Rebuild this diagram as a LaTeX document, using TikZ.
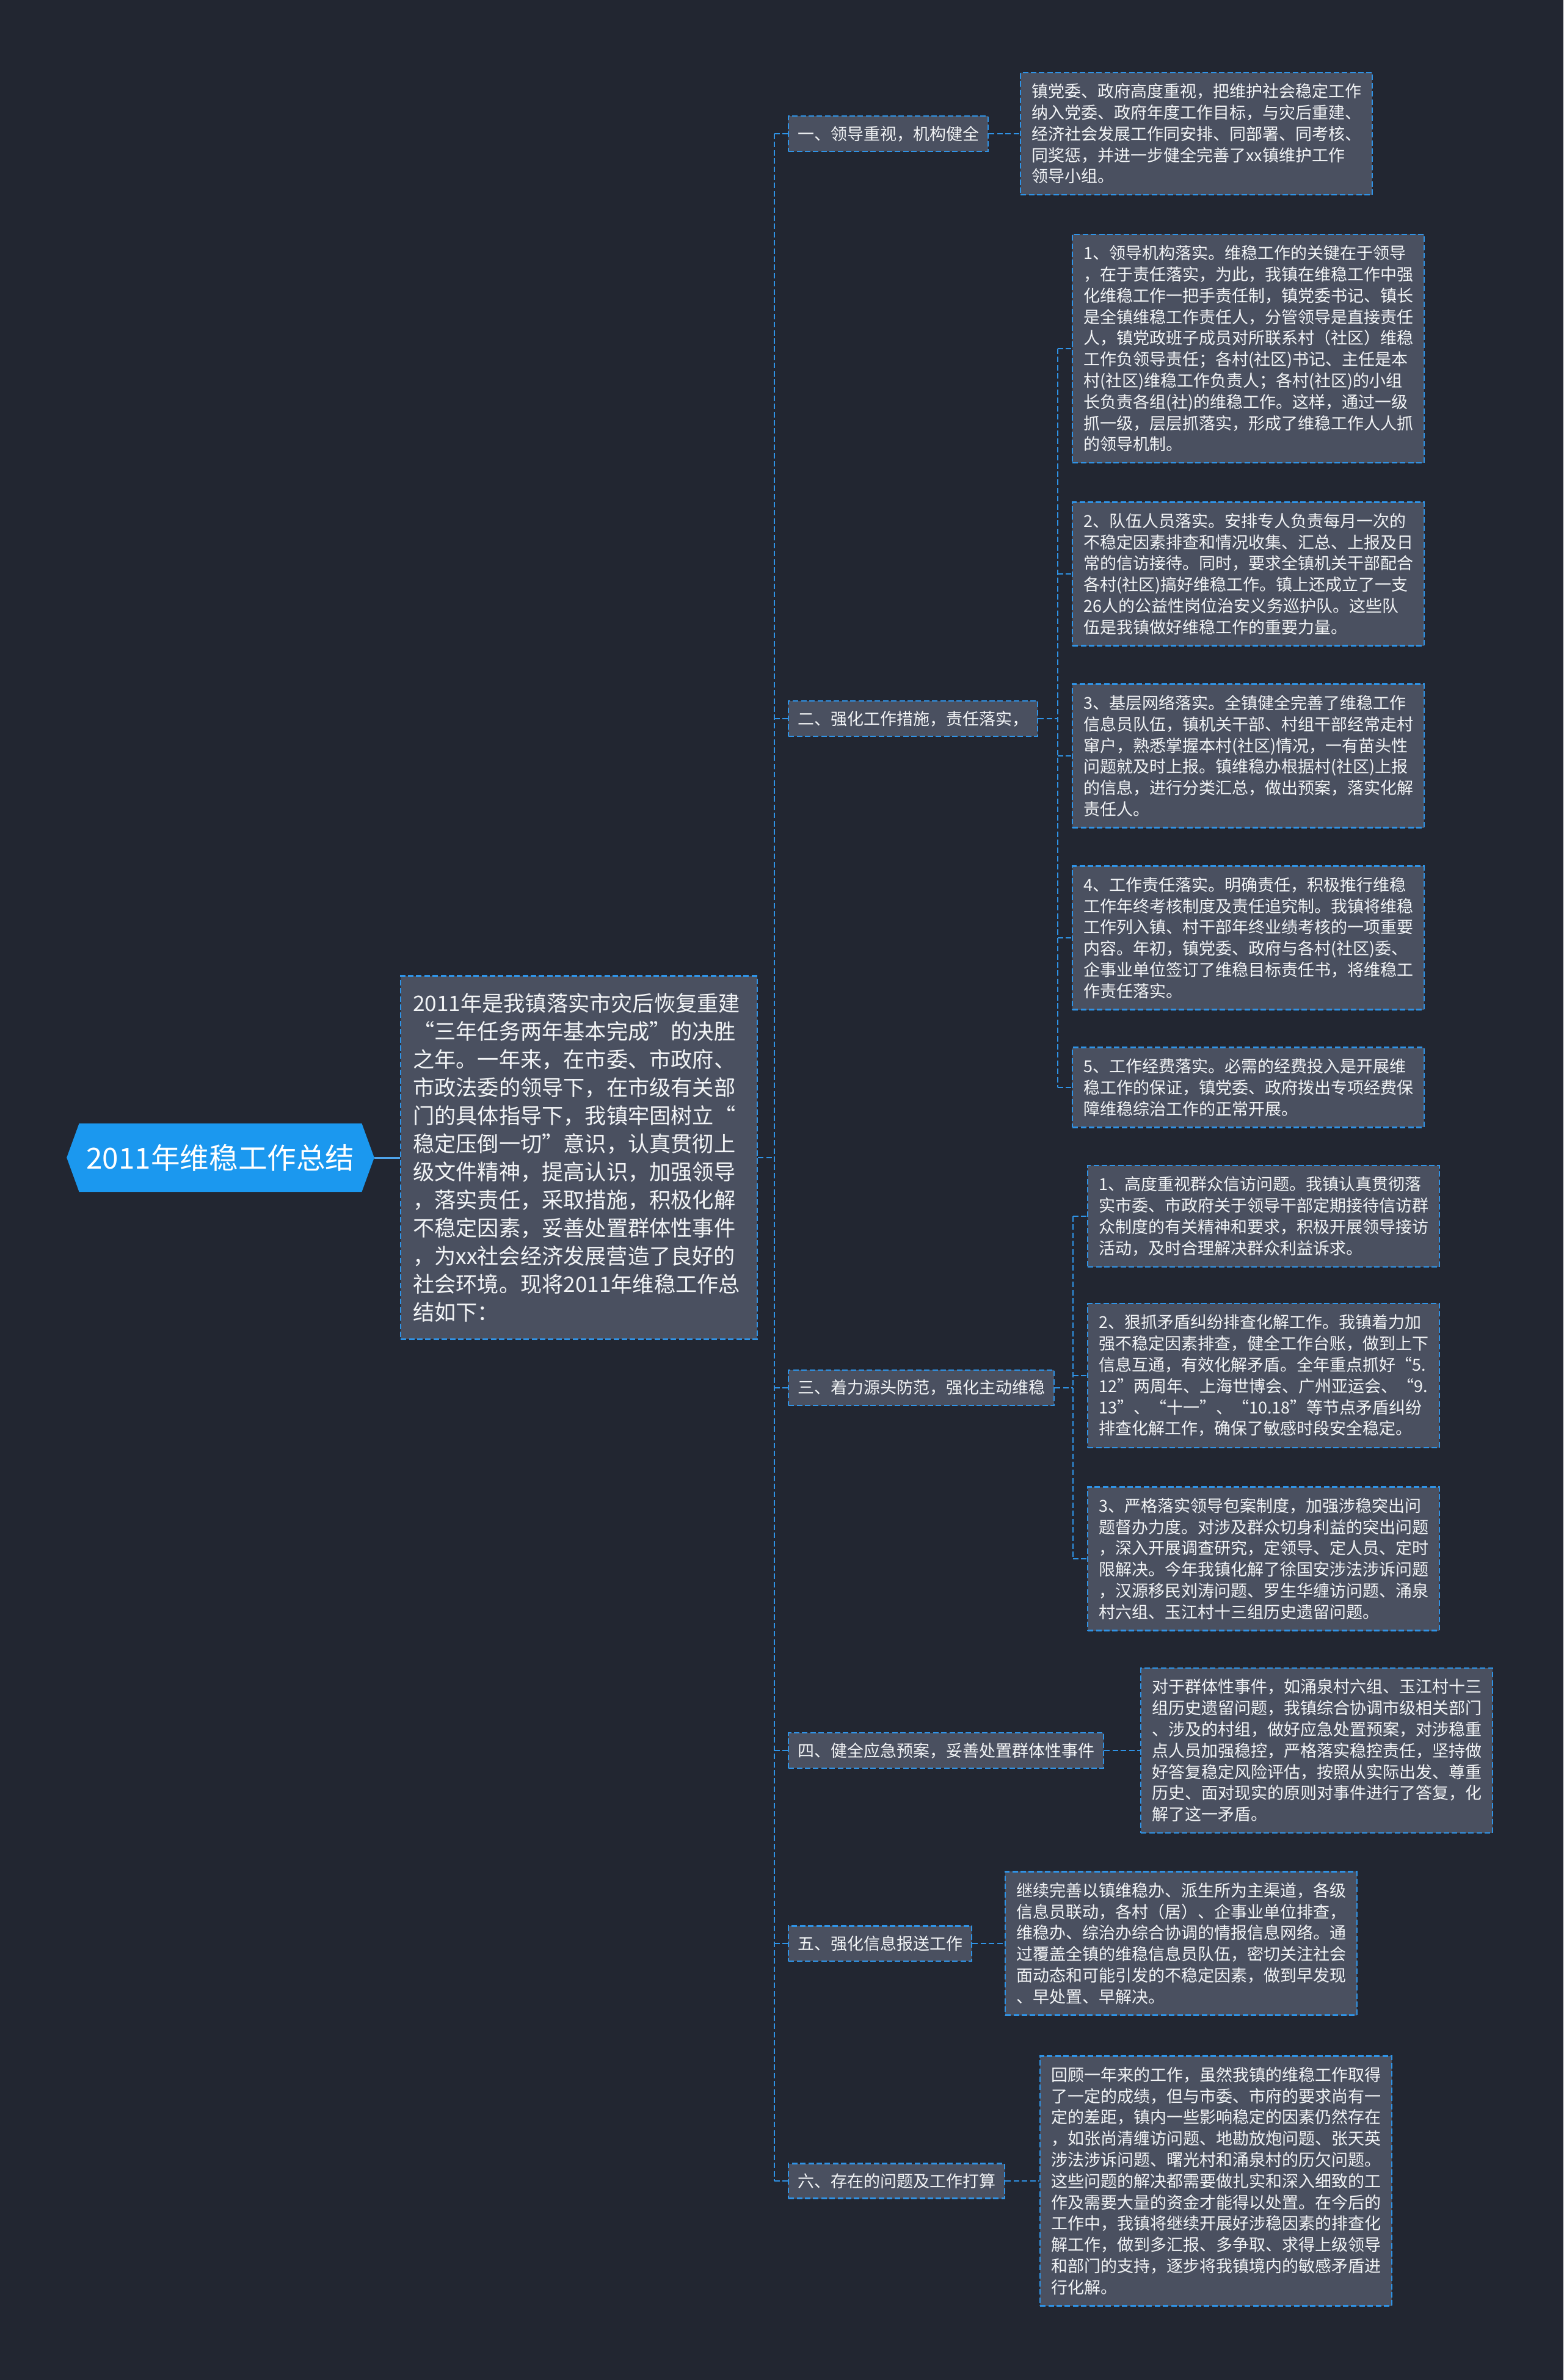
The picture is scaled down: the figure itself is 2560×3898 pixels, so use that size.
\documentclass[tikz,border=0pt]{standalone}
\usepackage{fontspec}
\setmainfont{Noto Sans CJK SC}
\usetikzlibrary{shapes.symbols}
\definecolor{smBack}{HTML}{222631}
\definecolor{smRoot}{HTML}{1B98EF}
\definecolor{smBox}{HTML}{4A5060}
\definecolor{smLine}{HTML}{2F93E6}
\definecolor{smInk}{HTML}{F2F4F6}
\tikzset{
  sm diagram/.style={x=0.5pt, y=-0.5pt, text=smInk},
  sm root/.style={signal, signal to=west and east, signal pointer angle=140,
    fill=smRoot, text=white, font=\fontsize{23.8}{28}\selectfont,
    minimum height=56pt, inner xsep=6pt},
  sm box/.style={draw=smLine, fill=smBox, line width=1.2pt,
    dash pattern=on 4.5pt off 2.2pt, align=left, anchor=west},
  sm intro/.style={sm box, text width=272pt, inner xsep=10pt, inner ysep=14pt,
    font=\fontsize{17.6}{23}\selectfont},
  sm title/.style={sm box, inner xsep=7.5pt, inner ysep=8pt,
    font=\fontsize{13.5}{17}\selectfont},
  sm leaf/.style={sm box, text width=270pt, inner xsep=9pt, inner ysep=9pt,
    font=\fontsize{13.5}{17.4}\selectfont},
  sm link/.style={draw=smLine, line width=1pt, dash pattern=on 4.5pt off 2.2pt},
  sm trunk/.style={draw=smLine!85!white, line width=1.5pt}
}
\begin{document}
\begin{tikzpicture}[sm diagram]
\fill[smBack] (0,0) rectangle (2560,3898);
\useasboundingbox (0,0) rectangle (2560,3898);
% root and introduction
\node[sm root] (root) at (361,1896) {2011年维稳工作总结};
\node[sm intro] (intro) at (655,1896) {2011年是我镇落实市灾后恢复重建\\
“三年任务两年基本完成”的决胜\\
之年。一年来，在市委、市政府、\\
市政法委的领导下，在市级有关部\\
门的具体指导下，我镇牢固树立“\\
稳定压倒一切”意识，认真贯彻上\\
级文件精神，提高认识，加强领导\\
，落实责任，采取措施，积极化解\\
不稳定因素，妥善处置群体性事件\\
，为xx社会经济发展营造了良好的\\
社会环境。现将2011年维稳工作总\\
结如下：};
\draw[sm trunk] (root.east) -- (intro.west);
% section titles
\foreach \name/\y/\title in {b1/219/{一、领导重视，机构健全},
  b2/1177/{二、强化工作措施，责任落实，},
  b3/2273/{三、着力源头防范，强化主动维稳},
  b4/2867/{四、健全应急预案，妥善处置群体性事件},
  b5/3183/{五、强化信息报送工作},
  b6/3572/{六、存在的问题及工作打算}}{
  \node[sm title] (\name) at (1290,\y) {\title};
}
\coordinate (spine) at (1268,1896);
\draw[sm link] (intro.east) -- (spine);
\draw[sm link] (spine |- b1.west) -- (spine |- b6.west);
\foreach \name in {b1,b2,b3,b4,b5,b6}
  \draw[sm link] (spine |- \name.west) -- (\name.west);
% section one
\node[sm leaf] (l1) at (1670,219) {镇党委、政府高度重视，把维护社会稳定工作\\
纳入党委、政府年度工作目标，与灾后重建、\\
经济社会发展工作同安排、同部署、同考核、\\
同奖惩，并进一步健全完善了xx镇维护工作\\
领导小组。};
\draw[sm link] (b1.east) -- (l1.west);
% section two
\node[sm leaf] (l21) at (1755,571) {1、领导机构落实。维稳工作的关键在于领导\\
，在于责任落实，为此，我镇在维稳工作中强\\
化维稳工作一把手责任制，镇党委书记、镇长\\
是全镇维稳工作责任人，分管领导是直接责任\\
人，镇党政班子成员对所联系村（社区）维稳\\
工作负领导责任；各村(社区)书记、主任是本\\
村(社区)维稳工作负责人；各村(社区)的小组\\
长负责各组(社)的维稳工作。这样，通过一级\\
抓一级，层层抓落实，形成了维稳工作人人抓\\
的领导机制。};
\node[sm leaf] (l22) at (1755,940) {2、队伍人员落实。安排专人负责每月一次的\\
不稳定因素排查和情况收集、汇总、上报及日\\
常的信访接待。同时，要求全镇机关干部配合\\
各村(社区)搞好维稳工作。镇上还成立了一支\\
26人的公益性岗位治安义务巡护队。这些队\\
伍是我镇做好维稳工作的重要力量。};
\node[sm leaf] (l23) at (1755,1238) {3、基层网络落实。全镇健全完善了维稳工作\\
信息员队伍，镇机关干部、村组干部经常走村\\
窜户，熟悉掌握本村(社区)情况，一有苗头性\\
问题就及时上报。镇维稳办根据村(社区)上报\\
的信息，进行分类汇总，做出预案，落实化解\\
责任人。};
\node[sm leaf] (l24) at (1755,1536) {4、工作责任落实。明确责任，积极推行维稳\\
工作年终考核制度及责任追究制。我镇将维稳\\
工作列入镇、村干部年终业绩考核的一项重要\\
内容。年初，镇党委、政府与各村(社区)委、\\
企事业单位签订了维稳目标责任书，将维稳工\\
作责任落实。};
\node[sm leaf] (l25) at (1755,1781) {5、工作经费落实。必需的经费投入是开展维\\
稳工作的保证，镇党委、政府拨出专项经费保\\
障维稳综治工作的正常开展。};
\coordinate (s2) at (1732,1177);
\draw[sm link] (b2.east) -- (s2);
\draw[sm link] (s2 |- l21.west) -- (s2 |- l25.west);
\foreach \leaf in {l21,l22,l23,l24,l25}
  \draw[sm link] (s2 |- \leaf.west) -- (\leaf.west);
% section three
\node[sm leaf] (l31) at (1780,1992) {1、高度重视群众信访问题。我镇认真贯彻落\\
实市委、市政府关于领导干部定期接待信访群\\
众制度的有关精神和要求，积极开展领导接访\\
活动，及时合理解决群众利益诉求。};
\node[sm leaf] (l32) at (1780,2253) {2、狠抓矛盾纠纷排查化解工作。我镇着力加\\
强不稳定因素排查，健全工作台账，做到上下\\
信息互通，有效化解矛盾。全年重点抓好“5.\\
12”两周年、上海世博会、广州亚运会、“9.\\
13”、“十一”、“10.18”等节点矛盾纠纷\\
排查化解工作，确保了敏感时段安全稳定。};
\node[sm leaf] (l33) at (1780,2553) {3、严格落实领导包案制度，加强涉稳突出问\\
题督办力度。对涉及群众切身利益的突出问题\\
，深入开展调查研究，定领导、定人员、定时\\
限解决。今年我镇化解了徐国安涉法涉诉问题\\
，汉源移民刘涛问题、罗生华缠访问题、涌泉\\
村六组、玉江村十三组历史遗留问题。};
\coordinate (s3) at (1757,2273);
\draw[sm link] (b3.east) -- (s3);
\draw[sm link] (s3 |- l31.west) -- (s3 |- l33.west);
\foreach \leaf in {l31,l32,l33}
  \draw[sm link] (s3 |- \leaf.west) -- (\leaf.west);
% sections four to six
\node[sm leaf] (l4) at (1867,2867) {对于群体性事件，如涌泉村六组、玉江村十三\\
组历史遗留问题，我镇综合协调市级相关部门\\
、涉及的村组，做好应急处置预案，对涉稳重\\
点人员加强稳控，严格落实稳控责任，坚持做\\
好答复稳定风险评估，按照从实际出发、尊重\\
历史、面对现实的原则对事件进行了答复，化\\
解了这一矛盾。};
\node[sm leaf] (l5) at (1645,3183) {继续完善以镇维稳办、派生所为主渠道，各级\\
信息员联动，各村（居）、企事业单位排查，\\
维稳办、综治办综合协调的情报信息网络。通\\
过覆盖全镇的维稳信息员队伍，密切关注社会\\
面动态和可能引发的不稳定因素，做到早发现\\
、早处置、早解决。};
\node[sm leaf] (l6) at (1702,3572) {回顾一年来的工作，虽然我镇的维稳工作取得\\
了一定的成绩，但与市委、市府的要求尚有一\\
定的差距，镇内一些影响稳定的因素仍然存在\\
，如张尚清缠访问题、地勘放炮问题、张天英\\
涉法涉诉问题、曙光村和涌泉村的历欠问题。\\
这些问题的解决都需要做扎实和深入细致的工\\
作及需要大量的资金才能得以处置。在今后的\\
工作中，我镇将继续开展好涉稳因素的排查化\\
解工作，做到多汇报、多争取、求得上级领导\\
和部门的支持，逐步将我镇境内的敏感矛盾进\\
行化解。};
\foreach \name/\leaf in {b4/l4,b5/l5,b6/l6}
  \draw[sm link] (\name.east) -- (\leaf.west);
\end{tikzpicture}
\end{document}
